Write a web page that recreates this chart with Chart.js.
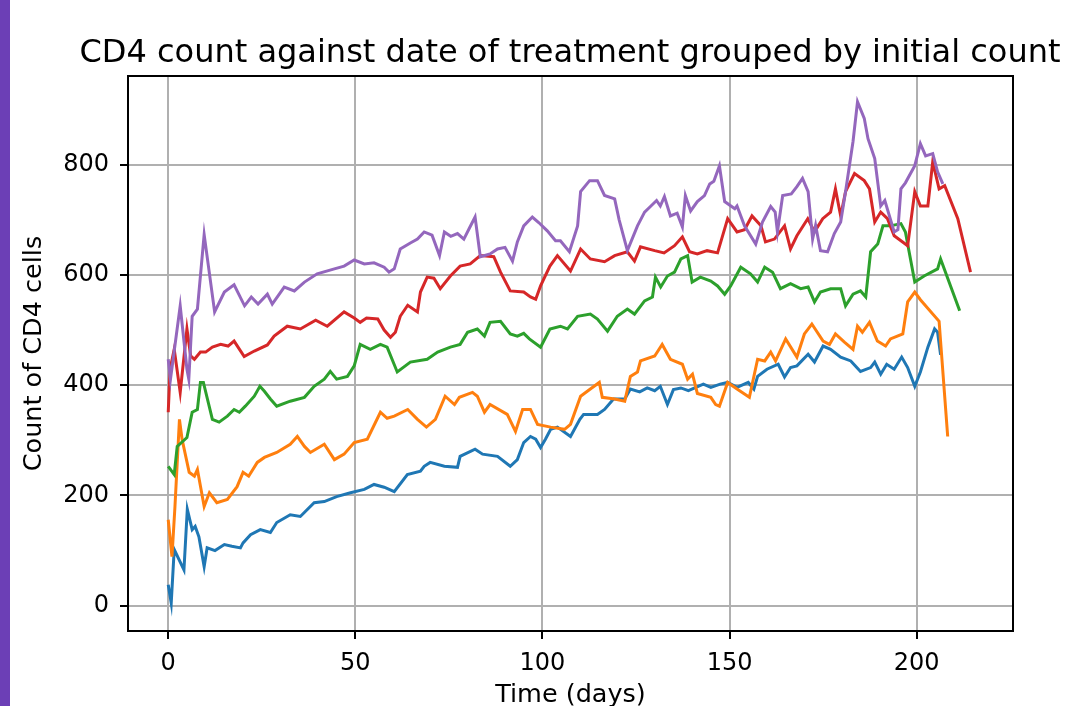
<!DOCTYPE html>
<html>
<head>
<meta charset="utf-8">
<script src="https://cdn.jsdelivr.net/npm/chart.js@4.4.1/dist/chart.umd.min.js"></script>
<style>
  body { margin: 0; overflow: hidden; background: #fff; }
  #bar { position: absolute; left: 0; top: 0; width: 10px; height: 706px; background: #6c3fb6; }
  #c { position: absolute; left: 0; top: 0; }
</style>
</head>
<body>
<div id="bar"></div>
<!-- canvas mais largo que a janela: o título fica centrado sobre a área do gráfico -->
<canvas id="c" width="1140" height="720"></canvas>
<script>
// valores: [dia, contagem]
const groupNames = ['Group 1', 'Group 2', 'Group 3', 'Group 4', 'Group 5'];
const groupColors = ['#1f77b4', '#ff7f0e', '#2ca02c', '#d62728', '#9467bd'];

const group1 = [[0,38],[0.8,5],[1.6,102],[4.2,65],[5.1,175],[6.4,138],[7.2,144],[8.2,125],[9.6,71],[10.4,105],[12.5,100],[15,111],[17,108],[19.3,105],[20,114],[22,129],[24.6,138],[27.3,133],[29,151],[32.6,165],[35.3,162],[39,187],[41.7,189],[45,198],[48.7,205],[52.4,211],[55,220],[57.7,215],[60.4,207],[63.9,238],[67.4,244],[68.4,253],[70,260],[73.8,253],[77.3,251],[78,271],[82,284],[84,275],[88,271],[91.4,253],[93.3,265],[95,296],[96.8,307],[98.2,302],[99.5,287],[100.8,302],[102.2,320],[104,324],[107.5,307],[110,338],[111,347],[114.7,347],[116.6,356],[119,375],[122,375],[123.5,393],[126,388],[128,395],[130,390],[131.5,398],[133.4,365],[135,392],[137,395],[139,390],[141,396],[143,402],[145,396],[147.5,402],[149.5,405],[152,396],[155,405],[156.5,393],[157.5,416],[160,429],[163,438],[164.7,415],[166.3,432],[168,435],[171,456],[172.7,442],[175,471],[177,465],[179.7,451],[182.4,444],[185,425],[187.7,432],[188.8,442],[190.4,420],[192,438],[194,429],[196,451],[197.6,432],[199.5,398],[201,424],[203,469],[204.8,502],[205.6,496],[206.4,455]];

const group2 = [[0,156],[1,89],[1.8,180],[3,338],[3.7,302],[5.6,242],[7,235],[7.8,247],[9.6,180],[11,205],[13,187],[15.8,193],[18.4,216],[20,242],[21.5,235],[23.8,260],[25.7,269],[29,278],[32.6,293],[34.5,307],[36.4,289],[38,278],[41.7,293],[44.4,265],[47,275],[49.7,296],[53.2,302],[56.7,351],[58.5,340],[60.4,344],[64,356],[66.6,338],[69,324],[71.4,338],[74,380],[76.5,365],[77.8,378],[81.3,387],[82.6,380],[84.5,351],[86,365],[90.6,347],[92.8,316],[94.7,356],[96.8,356],[98.7,329],[102.2,324],[105.9,320],[107.5,329],[110.2,380],[112.8,393],[115.2,405],[116,378],[119.3,375],[122,371],[123.5,416],[125.4,424],[126.2,444],[130,453],[132,474],[134.2,447],[137.4,438],[138.8,411],[140.1,420],[141.4,385],[145,378],[146.3,365],[147.3,362],[149.5,405],[152,393],[155.3,378],[157.5,447],[159.4,444],[161,460],[162.3,444],[165,484],[168,451],[170,493],[172,511],[175,480],[176.7,474],[178.3,493],[180.7,478],[183,465],[184.2,507],[185.5,496],[187.4,514],[189.5,480],[191.7,471],[193,484],[196.3,493],[197.6,551],[199.5,569],[201,555],[206,516],[208.3,307]];

const group3 = [[0,253],[1.6,238],[2.4,289],[5,305],[6.4,351],[7.8,356],[8.6,405],[9.4,405],[11.8,338],[13.6,333],[15.8,344],[17.6,356],[19,351],[20.6,362],[23,380],[24.5,398],[25.7,389],[27.3,375],[29,362],[32.6,371],[36.4,378],[39,398],[41.7,411],[43.3,425],[45,411],[47.9,416],[49.7,435],[51.3,474],[54,465],[56.7,474],[58.5,469],[61.2,424],[64.7,442],[69.2,447],[72,460],[75.4,469],[78,474],[80,496],[82.6,502],[84.5,489],[86,514],[88.8,516],[91.4,493],[93.3,489],[95,494],[96.5,484],[99.5,469],[102,502],[104.8,507],[106.7,502],[109.4,525],[112.8,529],[114.7,520],[117.4,498],[120,525],[122.7,538],[124.6,529],[127.3,553],[129.4,560],[130.2,596],[131.6,578],[133.4,598],[135.3,605],[137,629],[138.8,635],[140,587],[142.2,596],[145,589],[146.8,580],[148.7,565],[150.3,580],[153,614],[155.6,602],[157.5,587],[159.4,614],[161.5,605],[163.6,575],[166.3,584],[169,575],[171,578],[172.7,551],[174.3,569],[177,575],[179.7,575],[181,544],[183,565],[185,571],[186.4,560],[187.7,642],[189.6,656],[191,689],[193,689],[195.8,693],[197,678],[199.5,587],[202,598],[205.6,611],[206.4,629],[211.5,535]];

const group4 = [[0,351],[0.5,429],[1.6,465],[3.2,387],[5,502],[6,453],[7,447],[8.6,460],[10,460],[11.8,469],[14,474],[16,471],[17.6,480],[20.3,452],[23,462],[26.5,473],[28.3,489],[31.8,507],[35.3,502],[39.4,518],[42.5,507],[47,533],[49.7,522],[51.3,514],[53,522],[56,520],[57.7,500],[59.4,487],[60.7,496],[62,525],[64,545],[66.6,533],[67.4,569],[69.2,596],[71,594],[72.7,575],[75.4,598],[78,616],[80.7,620],[83.4,635],[87,633],[88.8,605],[91.4,571],[95,569],[96.8,560],[98.2,556],[99.5,580],[102,616],[104,635],[107.5,607],[110.2,647],[112.8,629],[116.6,624],[119.3,635],[122.7,642],[124.6,625],[126.2,651],[130,644],[132.5,640],[135.3,653],[137.4,669],[139.3,642],[141.4,638],[144,644],[146.8,640],[149.5,702],[152,678],[154,682],[156,707],[158.4,689],[159.6,660],[162,665],[164.7,689],[166.3,647],[168,671],[170.9,702],[172.7,678],[174.9,702],[177,714],[178.3,756],[179.7,707],[181,751],[183.4,784],[186,771],[187.4,756],[188.8,696],[190.4,714],[192.2,702],[194,671],[197.6,653],[199.5,751],[201,725],[203,725],[204.3,805],[206,756],[207.5,762],[211,702],[214.4,605]];

const group5 = [[0,447],[0.6,411],[3.2,544],[5,429],[5.5,411],[6.4,525],[7.8,538],[9.6,673],[12.4,533],[15,569],[17.6,582],[20.4,544],[22.2,560],[24,547],[26.5,565],[27.8,547],[31,578],[33.7,571],[36.4,587],[39.8,602],[44.4,611],[47,616],[49.7,627],[52.4,620],[55,622],[57.7,614],[59,605],[60.4,611],[62,647],[64.7,658],[66.6,665],[68.4,678],[70.5,672],[72.5,635],[73.8,678],[75.5,670],[77.3,675],[79,665],[80.5,685],[82,705],[83.4,633],[86,638],[88,647],[90,650],[92,625],[93.3,660],[95,689],[97.3,705],[99,695],[101.3,680],[103.5,662],[104.8,662],[107.2,642],[109.4,689],[110.2,751],[112.6,771],[114.7,771],[116.6,744],[119.3,738],[120.5,700],[122.7,644],[125.4,689],[127.3,714],[129,725],[130.5,735],[131.5,725],[132.6,742],[134.2,707],[136,712],[137.4,687],[138.2,744],[139.6,716],[141.4,733],[143.3,744],[144.7,765],[145.8,770],[147.3,798],[148.7,733],[151.4,720],[152,725],[154,689],[157,656],[158.8,696],[161,724],[162.2,714],[162.8,678],[164.2,744],[166.5,747],[168,760],[169.5,775],[171,751],[172.2,665],[173,690],[174.3,644],[176.2,642],[178,675],[179.7,696],[181,751],[183,842],[184.2,914],[186,884],[187,847],[188.8,811],[190.4,725],[191.5,735],[194,678],[195,682],[195.8,756],[197,767],[199.5,798],[201,838],[202.4,816],[204.3,820],[205.6,787],[207,765]];

const xTicks = [0, 50, 100, 150, 200];
const yTicks = [0, 200, 400, 600, 800];

const groups = [group1, group2, group3, group4, group5];

// moldura completa em volta da área do gráfico (como no matplotlib)
const frame = {
  id: 'frame',
  afterDatasetsDraw(chart) {
    const { ctx, chartArea: a } = chart;
    ctx.save();
    ctx.strokeStyle = '#000';
    ctx.lineWidth = 2;
    ctx.strokeRect(a.left, a.top, a.right - a.left, a.bottom - a.top);
    ctx.restore();
  }
};

const font = 'DejaVu Sans';

new Chart(document.getElementById('c'), {
  type: 'line',
  data: {
    datasets: groups.map((g, i) => ({
      label: groupNames[i],
      data: g.map(p => ({ x: p[0], y: p[1] })),
      borderColor: groupColors[i],
      borderWidth: 3,
      pointRadius: 0,
      tension: 0,
      fill: false,
      order: 4 - i
    }))
  },
  options: {
    responsive: false,
    animation: false,
    layout: { padding: 0 },
    plugins: {
      legend: { display: false },
      tooltip: { enabled: false },
      title: {
        display: true,
        text: 'CD4 count against date of treatment grouped by initial count',
        color: '#000',
        font: { family: font, size: 32, weight: 'normal' },
        padding: { top: 34.5, bottom: 3.1 }
      }
    },
    scales: {
      x: {
        type: 'linear',
        min: -10.75,
        max: 225.75,
        afterBuildTicks: s => { s.ticks = xTicks.map(v => ({ value: v })); },
        afterFit: s => { s.height = 89; },
        border: { display: false },
        grid: { color: '#b0b0b0', lineWidth: 2, tickLength: 8, tickColor: '#000', tickWidth: 2 },
        ticks: { color: '#000', padding: 10, maxRotation: 0, font: { family: font, size: 24 } },
        title: {
          display: true,
          text: 'Time (days)',
          color: '#000',
          font: { family: font, size: 25.5 },
          padding: { top: 0, bottom: 9.7 }
        }
      },
      y: {
        type: 'linear',
        min: -45.75,
        max: 960.75,
        afterBuildTicks: s => { s.ticks = yTicks.map(v => ({ value: v })); },
        afterFit: s => { s.width = 128; },
        border: { display: false },
        grid: { color: '#b0b0b0', lineWidth: 2, tickLength: 8, tickColor: '#000', tickWidth: 2 },
        ticks: { color: '#000', padding: 11, font: { family: font, size: 24 } },
        title: {
          display: true,
          text: 'Count of CD4 cells',
          color: '#000',
          font: { family: font, size: 25.5 },
          padding: { top: 18.7, bottom: 0 }
        }
      },
      // eixo vazio à direita, só reserva a margem
      yRight: {
        type: 'linear',
        position: 'right',
        grid: { display: false },
        border: { display: false },
        ticks: { display: false },
        afterFit: s => { s.width = 127; }
      }
    }
  },
  plugins: [frame]
});
</script>
</body>
</html>
